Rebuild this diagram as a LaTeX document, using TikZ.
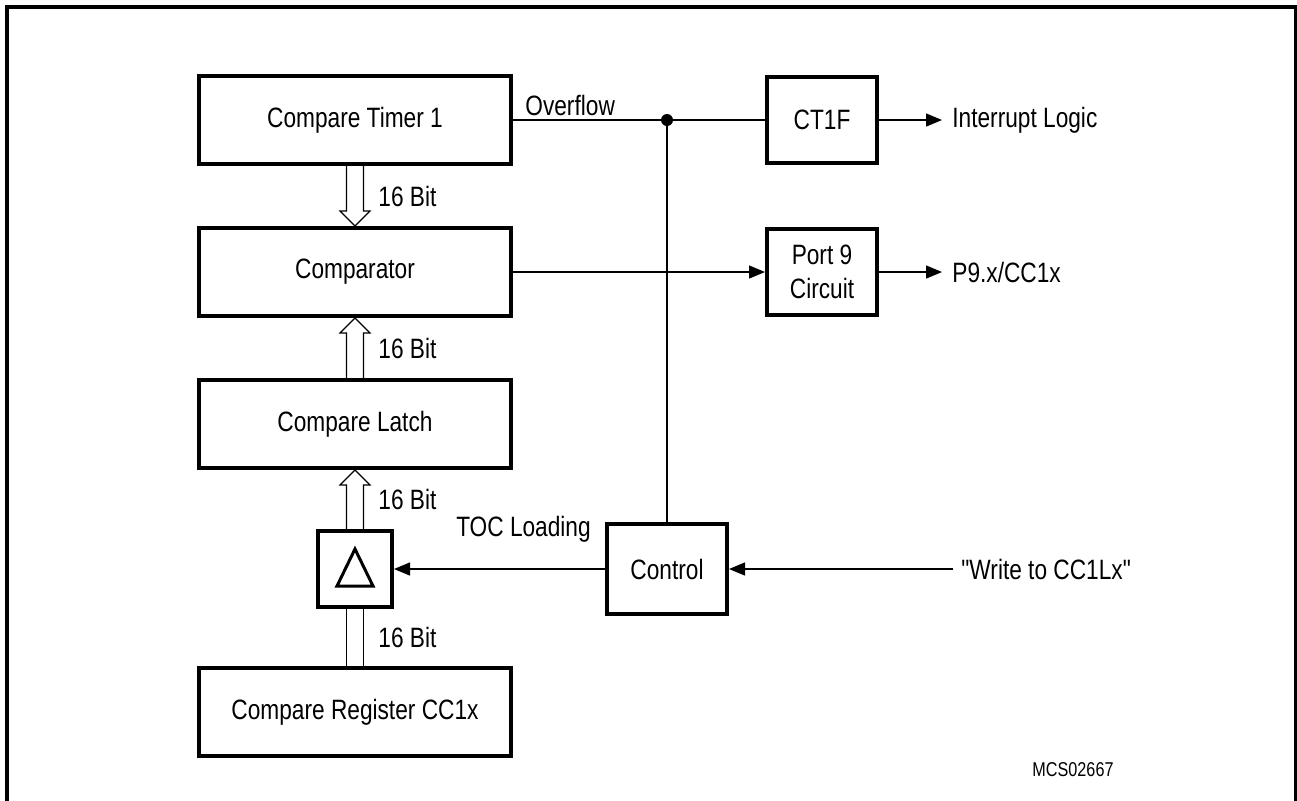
\documentclass[tikz,border=0pt]{standalone}
\usepackage{fontspec}
\setmainfont{Liberation Sans}[FakeStretch=0.81, Ligatures=TeXOff]
\usepackage{tikz}
\usetikzlibrary{arrows.meta,positioning,calc}
\tikzset{
	block/.style={draw, line width=2pt, minimum width=156pt, minimum height=44pt,
		align=center, inner sep=0pt},
	smallblock/.style={draw, line width=2pt, minimum width=55pt, minimum height=43pt,
		align=center, inner sep=0pt},
	signal/.style={line width=0.7pt},
	arrow/.style={-{Triangle[length=8pt,width=6.5pt]}, line width=0.7pt},
	busline/.style={line width=0.6pt, line join=miter},
	buslabel/.style={anchor=west, inner sep=0pt}
}
% hollow 16 bit bus: outline of a wide arrow from #1 to #2
\newcommand{\busarrow}[2]{%
	\draw[busline] ($(#1)+(-4.25pt,0)$) -- ($(#2)!7.5pt!(#1)+(-4.25pt,0)$)
	-- ($(#2)!7.5pt!(#1)+(-7.5pt,0)$) -- (#2)
	-- ($(#2)!7.5pt!(#1)+(7.5pt,0)$) -- ($(#2)!7.5pt!(#1)+(4.25pt,0)$)
	-- ($(#1)+(4.25pt,0)$);}
\newcommand{\busplain}[2]{%
	\draw[busline] ($(#1)+(-4.25pt,0)$) -- ($(#2)+(-4.25pt,0)$)
	($(#1)+(4.25pt,0)$) -- ($(#2)+(4.25pt,0)$);}
\begin{document}
\begin{tikzpicture}[
	font=\fontsize{14}{16.8}\selectfont,
	node distance=30pt,
	]
	\useasboundingbox (0,0) rectangle (648.5pt,-400pt);
	
	%% -- Frame (open at the bottom)
	\draw[line width=2pt] (3.5pt,-402pt) -- (3.5pt,-3.5pt) -- (648pt,-3.5pt) -- (648pt,-402pt);
	
	%% -- Left column
	\node[block] (timer) at (177.5pt,-60pt) {Compare Timer 1};
	\node[block, below=of timer] (comp) {Comparator};
	\node[block, below=of comp] (latch) {Compare Latch};
	\node[draw, line width=2pt, minimum width=37pt, minimum height=38pt,
	below=29.5pt of latch] (tri) {};
	\node[block, below=28.5pt of tri] (reg) {Compare Register CC1x};
	
	%% -- Triangle symbol in the transfer box
	\draw[line width=1.5pt, line join=miter] ($(tri.center)+(0,10pt)$)
	-- ($(tri.center)+(-9pt,-8.5pt)$) -- ($(tri.center)+(9pt,-8.5pt)$) -- cycle;
	
	%% -- Right side blocks
	\node[smallblock, right=126pt of timer] (ct1f) {CT1F};
	\node[smallblock, right=126pt of comp] (port) {Port 9\\Circuit};
	\node[draw, line width=2pt, minimum width=60pt, minimum height=45pt,
	right=105.5pt of tri] (ctrl) {Control};
	
	%% -- Bus connections
	\busarrow{timer.south}{comp.north}
	\busarrow{latch.north}{comp.south}
	\busarrow{tri.north}{latch.south}
	\busplain{reg.north}{tri.south}
	\node[buslabel] at ($(timer.south)!0.5!(comp.north)+(11.5pt,0)$) {16 Bit};
	\node[buslabel] at ($(comp.south)!0.5!(latch.north)+(11.5pt,0)$) {16 Bit};
	\node[buslabel] at ($(latch.south)!0.5!(tri.north)+(11.5pt,0)$) {16 Bit};
	\node[buslabel] at ($(tri.south)!0.5!(reg.north)+(11.5pt,0)$) {16 Bit};
	
	%% -- Overflow line with junction down to control
	\coordinate (junc) at (timer.east -| ctrl.north);
	\draw[signal] (timer.east) -- (ct1f.west);
	\fill (junc) circle (3pt);
	\draw[signal] (junc) -- (ctrl.north);
	\node[above right=2pt and 6pt of timer.east, inner sep=0pt] (ovf) {Overflow};
	
	%% -- Outputs
	\coordinate[right=31.5pt of ct1f.east] (intend);
	\draw[arrow] (ct1f.east) -- (intend);
	\node[right=5pt of intend, inner sep=0pt] (intlbl) {Interrupt Logic};
	
	\draw[arrow] (comp.east) -- (port.west);
	\coordinate[right=31.5pt of port.east] (pinend);
	\draw[arrow] (port.east) -- (pinend);
	\node[right=5pt of pinend, inner sep=0pt] (pinlbl) {P9.x/CC1x};
	
	%% -- Control inputs and TOC loading
	\node[right=116pt of ctrl.east, anchor=west, inner sep=0pt] (wr) {"Write to CC1Lx"};
	\draw[arrow] ($(wr.west)+(-4pt,0)$) coordinate (wrstart) -- (ctrl.east);
	\draw[arrow] (ctrl.west) -- (tri.east);
	\node[inner sep=0pt] (toc) at ($(tri.east)!0.5!(ctrl.west)+(12pt,20pt)$) {TOC Loading};
	
	%% -- Figure id
	\node[font=\fontsize{10}{12}\selectfont] (figid) at (536.5pt,-385pt) {MCS02667};
	
\end{tikzpicture}
\end{document}
